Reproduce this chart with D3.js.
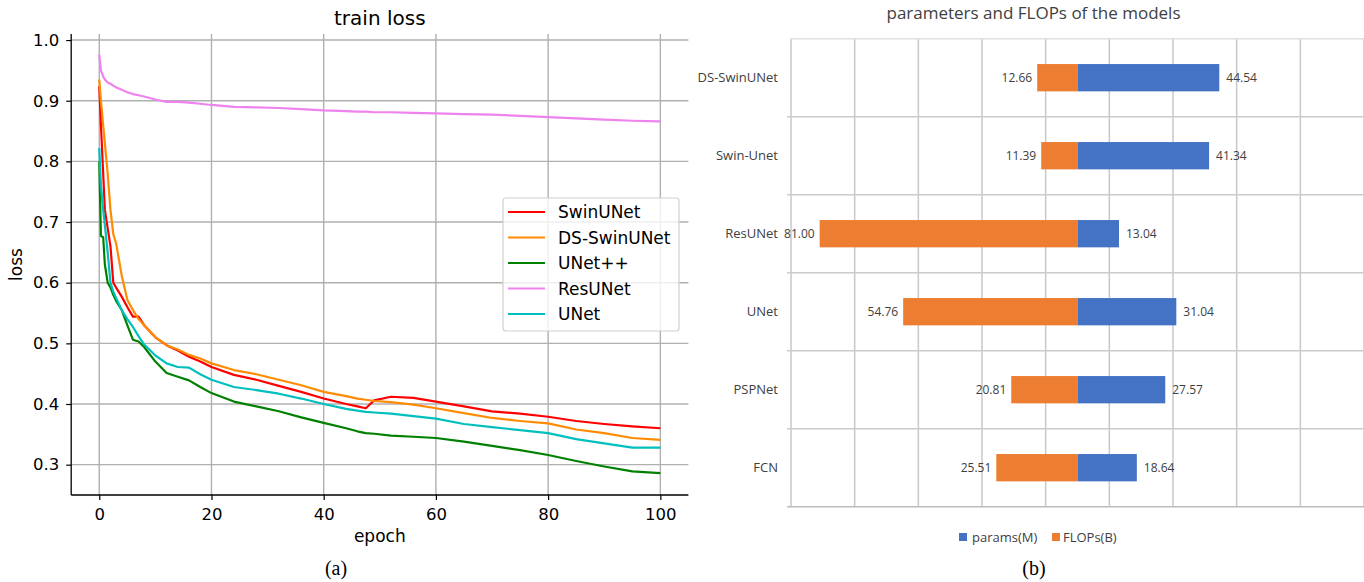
<!DOCTYPE html>
<head>
  <meta charset="UTF-8">
  <script src="https://d3js.org/d3.v7.min.js"></script>
  <style>
    body { margin: 0; background: #fff; }
  </style>
</head>

<body>
  <div id="my_dataviz"></div>

  <script>
    // ---------- (a) train loss ----------
    var epochs = [0, 0.3, 0.7, 1, 1.5, 2, 2.5, 3, 4, 5, 6, 7, 8, 10, 12, 14, 16, 18, 20, 24, 28, 32, 36, 40,
      44, 46, 47.5, 49, 52, 56, 60, 65, 70, 75, 80, 85, 90, 95, 100];

    var swinUNet = [0.924, 0.86, 0.78, 0.72, 0.69, 0.66, 0.60, 0.592, 0.577, 0.56, 0.544, 0.544, 0.53, 0.51, 0.497,
      0.488, 0.478, 0.47, 0.461, 0.448, 0.44, 0.43, 0.42, 0.409, 0.40, 0.396, 0.393, 0.406, 0.412, 0.41, 0.404,
      0.396, 0.388, 0.384, 0.379, 0.372, 0.367, 0.363, 0.360];

    var dsSwinUNet = [0.935, 0.90, 0.86, 0.83, 0.78, 0.72, 0.68, 0.665, 0.612, 0.572, 0.555, 0.54, 0.53, 0.51, 0.497,
      0.49, 0.481, 0.475, 0.467, 0.456, 0.449, 0.44, 0.431, 0.42, 0.413, 0.409, 0.407, 0.405, 0.403, 0.399, 0.393,
      0.385, 0.377, 0.372, 0.368, 0.358, 0.352, 0.344, 0.341];

    var unetPP = [0.80, 0.677, 0.675, 0.63, 0.60, 0.592, 0.58, 0.57, 0.555, 0.53, 0.506, 0.503, 0.494, 0.47, 0.451,
      0.445, 0.439, 0.428, 0.418, 0.404, 0.396, 0.388, 0.378, 0.369, 0.36, 0.355, 0.352, 0.351, 0.348, 0.346, 0.344,
      0.338, 0.331, 0.324, 0.316, 0.306, 0.297, 0.289, 0.286];

    var resUNet = [0.976, 0.95, 0.94, 0.935, 0.93, 0.928, 0.925, 0.922, 0.918, 0.914, 0.911, 0.909, 0.907, 0.902, 0.898,
      0.898, 0.897, 0.895, 0.893, 0.89, 0.889, 0.888, 0.886, 0.884, 0.883, 0.882, 0.882, 0.881, 0.881, 0.880, 0.879,
      0.878, 0.877, 0.875, 0.873, 0.871, 0.869, 0.867, 0.866];

    var unet = [0.822, 0.76, 0.72, 0.695, 0.65, 0.60, 0.585, 0.575, 0.555, 0.54, 0.527, 0.512, 0.498, 0.48, 0.467,
      0.461, 0.46, 0.449, 0.44, 0.428, 0.423, 0.417, 0.409, 0.40, 0.392, 0.389, 0.387, 0.386, 0.384, 0.38, 0.376,
      0.367, 0.362, 0.357, 0.352, 0.342, 0.335, 0.328, 0.328];

    var lossNames = ["SwinUNet", "DS-SwinUNet", "UNet++", "ResUNet", "UNet"];
    var lossValues = [swinUNet, dsSwinUNet, unetPP, resUNet, unet];
    var lossColors = ["#ff0000", "#ff8c00", "#008000", "#ee82ee", "#00bfbf"];

    var xTicks = [0, 20, 40, 60, 80, 100];
    var yTicks = [0.3, 0.4, 0.5, 0.6, 0.7, 0.8, 0.9, 1.0];

    // ---------- (b) parameters and FLOPs ----------
    var models = ["DS-SwinUNet", "Swin-Unet", "ResUNet", "UNet", "PSPNet", "FCN"];
    var paramsM = [44.54, 41.34, 13.04, 31.04, 27.57, 18.64];
    var flopsB = [12.66, 11.39, 81.00, 54.76, 20.81, 25.51];
    var gridTicksB = [-90, -70, -50, -30, -10, 10, 30, 50, 70, 90];

    var svg = d3.select("#my_dataviz").append("svg")
      .attr("width", 1364)
      .attr("height", 582)
      .style("font-family", "DejaVu Sans");

    svg.append("rect").attr("width", 1364).attr("height", 582).attr("fill", "#fff");

    // ===== left chart =====
    var x = d3.scaleLinear().domain([-5, 105]).range([71.2, 688.4]);
    var y = d3.scaleLinear().domain([0.25, 1.01]).range([495, 34]);

    var left = svg.append("g");

    // grid
    left.selectAll(".vgrid").data(xTicks).enter().append("line")
      .attr("x1", function (d) { return x(d) }).attr("x2", function (d) { return x(d) })
      .attr("y1", y.range()[1]).attr("y2", y.range()[0])
      .attr("stroke", "#b0b0b0").attr("stroke-width", 1.4);
    left.selectAll(".hgrid").data(yTicks).enter().append("line")
      .attr("x1", x.range()[0]).attr("x2", x.range()[1])
      .attr("y1", function (d) { return y(d) }).attr("y2", function (d) { return y(d) })
      .attr("stroke", "#b0b0b0").attr("stroke-width", 1.4);

    // axes
    var yAxis = left.append("g")
      .attr("transform", "translate(" + x.range()[0] + ",0)")
      .call(d3.axisLeft(y).tickValues(yTicks).tickSize(5).tickPadding(7).tickFormat(d3.format(".1f")));
    yAxis.select(".domain").remove();
    yAxis.append("line").attr("x1", 0).attr("x2", 0).attr("y1", y.range()[0]).attr("y2", y.range()[1])
      .attr("stroke", "#000").attr("stroke-width", 1.3);

    var xAxis = left.append("g")
      .attr("transform", "translate(0," + y.range()[0] + ")")
      .call(d3.axisBottom(x).tickValues(xTicks).tickSize(5).tickPadding(8));
    xAxis.select(".domain").remove();
    xAxis.append("line").attr("x1", x.range()[0]).attr("x2", x.range()[1]).attr("y1", 0).attr("y2", 0)
      .attr("stroke", "#000").attr("stroke-width", 1.3);

    left.selectAll(".tick text").style("font-size", "16.5px").style("font-family", "DejaVu Sans").attr("fill", "#000");
    left.selectAll(".tick line").attr("stroke", "#000").attr("stroke-width", 1.2);

    // lines
    var line = d3.line()
      .x(function (d) { return x(d[0]) })
      .y(function (d) { return y(d[1]) });

    lossValues.forEach(function (vals, i) {
      left.append("path")
        .datum(epochs.map(function (e, j) { return [e, vals[j]] }))
        .attr("d", line)
        .attr("fill", "none")
        .attr("stroke", lossColors[i])
        .attr("stroke-width", 2.2)
        .attr("stroke-linejoin", "round");
    });

    // titles
    left.append("text").attr("x", 379.8).attr("y", 25).attr("text-anchor", "middle")
      .style("font-size", "20px").text("train loss");
    left.append("text").attr("x", 379.8).attr("y", 542).attr("text-anchor", "middle")
      .style("font-size", "17px").text("epoch");
    left.append("text").attr("transform", "translate(22,264.5) rotate(-90)").attr("text-anchor", "middle")
      .style("font-size", "17px").text("loss");

    // legend
    var legend = left.append("g");
    legend.append("rect").attr("x", 503).attr("y", 198).attr("width", 176).attr("height", 133)
      .attr("rx", 3).attr("fill", "#fff").attr("fill-opacity", 0.8)
      .attr("stroke", "#d0d0d0").attr("stroke-width", 1.2);
    lossNames.forEach(function (name, i) {
      var ly = 212 + i * 25.5;
      legend.append("line").attr("x1", 508).attr("x2", 545).attr("y1", ly).attr("y2", ly)
        .attr("stroke", lossColors[i]).attr("stroke-width", 2.2);
      legend.append("text").attr("x", 558).attr("y", ly).attr("dy", "0.36em")
        .style("font-size", "17px").text(name);
    });

    // caption
    svg.append("text").attr("x", 336).attr("y", 575).attr("text-anchor", "middle")
      .style("font-family", "Liberation Serif").style("font-size", "20px").text("(a)");

    // ===== right chart =====
    var right = svg.append("g").style("font-family", "Open Sans");
    var xb = d3.scaleLinear().domain([-90, 90]).range([791, 1364]);
    var yb = d3.scaleBand().domain(models).range([38.7, 506.7]).padding(0);
    var barH = yb.bandwidth() * 0.35;

    // vertical grid
    right.selectAll(".bv").data(gridTicksB).enter().append("line")
      .attr("x1", function (d) { return xb(d) }).attr("x2", function (d) { return xb(d) })
      .attr("y1", yb.range()[0]).attr("y2", yb.range()[1])
      .attr("stroke", "#c8c8c8").attr("stroke-width", 1.5);

    // horizontal separators
    var seps = models.map(function (m) { return yb(m) }).concat([yb.range()[1]]);
    right.selectAll(".bh").data(seps).enter().append("line")
      .attr("x1", function (d, i) { return i == 0 ? xb(-90) : 787 }).attr("x2", 1364)
      .attr("y1", function (d) { return d }).attr("y2", function (d) { return d })
      .attr("stroke", function (d, i) { return i == 0 ? "#e0e0e0" : (i == seps.length - 1 ? "#bcbcbc" : "#cbcbcb") })
      .attr("stroke-width", 1.5);

    // bars
    models.forEach(function (m, i) {
      var by = yb(m) + (yb.bandwidth() - barH) / 2;
      right.append("rect")
        .attr("x", xb(-flopsB[i])).attr("y", by)
        .attr("width", xb(0) - xb(-flopsB[i])).attr("height", barH)
        .attr("fill", "#ed7d31");
      right.append("rect")
        .attr("x", xb(0)).attr("y", by)
        .attr("width", xb(paramsM[i]) - xb(0)).attr("height", barH)
        .attr("fill", "#4472c4");
      right.append("text")
        .attr("x", xb(-flopsB[i]) - 5).attr("y", yb(m) + yb.bandwidth() / 2).attr("dy", "0.35em")
        .attr("text-anchor", "end").style("font-size", "12px").attr("fill", "#404040")
        .text(flopsB[i].toFixed(2));
      right.append("text")
        .attr("x", xb(paramsM[i]) + 7).attr("y", yb(m) + yb.bandwidth() / 2).attr("dy", "0.35em")
        .style("font-size", "12px").attr("fill", "#404040")
        .text(paramsM[i].toFixed(2));
      right.append("text")
        .attr("x", 778).attr("y", yb(m) + yb.bandwidth() / 2).attr("dy", "0.35em")
        .attr("text-anchor", "end").style("font-size", "13px").attr("fill", "#404040")
        .text(m);
    });

    // title
    right.append("text").attr("x", 1033.5).attr("y", 19).attr("text-anchor", "middle")
      .style("font-size", "17px").attr("fill", "#404040").text("parameters and FLOPs of the models");

    // legend
    right.append("rect").attr("x", 959).attr("y", 533).attr("width", 8).attr("height", 8).attr("fill", "#4472c4");
    right.append("text").attr("x", 972).attr("y", 537).attr("dy", "0.35em")
      .style("font-size", "13px").attr("fill", "#404040").text("params(M)");
    right.append("rect").attr("x", 1052).attr("y", 533).attr("width", 8).attr("height", 8).attr("fill", "#ed7d31");
    right.append("text").attr("x", 1063).attr("y", 537).attr("dy", "0.35em")
      .style("font-size", "13px").attr("fill", "#404040").text("FLOPs(B)");

    svg.append("text").attr("x", 1034).attr("y", 575).attr("text-anchor", "middle")
      .style("font-family", "Liberation Serif").style("font-size", "20px").text("(b)");
  </script>

</body>
